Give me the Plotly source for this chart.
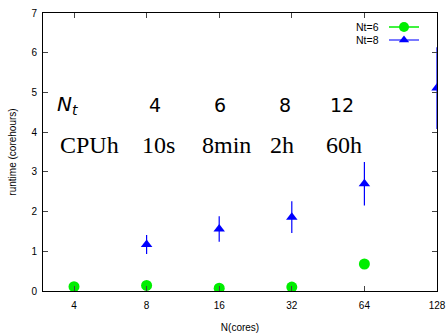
import plotly.graph_objects as go

cores_nt6 = [4, 8, 16, 32, 64]
runtime_nt6 = [0.11, 0.14, 0.07, 0.10, 0.68]

cores_nt8 = [8, 16, 32, 64, 128]
runtime_nt8 = [1.17, 1.56, 1.86, 2.70, 5.11]
err_nt8 = [0.24, 0.32, 0.40, 0.55, 1.03]

nt_labels = ["4", "6", "8", "12"]
cpuh_labels = ["10s", "8min", "2h", "60h"]
col_px = [155, 220, 285, 342]
cpuh_px = [158, 226, 282, 344]

xticks = [4, 8, 16, 32, 64, 128]

GREEN = "#00ee00"
BLUE = "#0000ff"

fig = go.Figure()
fig.add_trace(go.Scatter(
    x=cores_nt6, y=runtime_nt6, mode="markers", name="Nt=6", showlegend=False,
    marker=dict(symbol="circle", size=11, color=GREEN),
))
fig.add_trace(go.Scatter(
    x=cores_nt8, y=runtime_nt8, mode="markers", name="Nt=8", showlegend=False,
    marker=dict(symbol="triangle-up", size=10, color=BLUE),
    error_y=dict(type="data", array=err_nt8, width=0, thickness=1.2, color=BLUE),
))
# legend keys (no data)
fig.add_trace(go.Scatter(x=[None], y=[None], mode="lines+markers", name="\u200b",
                         line=dict(color=GREEN, width=1.5), legend="legend",
                         marker=dict(symbol="circle", size=10, color=GREEN)))
fig.add_trace(go.Scatter(x=[None], y=[None], mode="lines+markers", name="\u200b",
                         line=dict(color="#4d4dff", width=1.5), legend="legend2",
                         marker=dict(symbol="triangle-up", size=9, color=BLUE)))

W, H = 448, 333
L, R, T, B = 43, 11, 13, 42
pw, ph = W - L - R, H - T - B

def px2paper(x, y):
    return (x - L) / pw, 1 - (y - T) / ph

ann = []
def add_text(text, px, py, family, size, xanchor="center"):
    fx, fy = px2paper(px, py)
    ann.append(dict(x=fx, y=fy, xref="paper", yref="paper", text=text,
                    showarrow=False, xanchor=xanchor, yanchor="middle",
                    font=dict(family=family, size=size, color="black")))

add_text("<i>N<sub>t</sub></i>", 67, 105, "DejaVu Sans", 20)
for lab, px in zip(nt_labels, col_px):
    add_text(lab, px, 105, "DejaVu Sans", 19)
add_text("CPUh", 89, 145, "Liberation Serif", 24)
for lab, px in zip(cpuh_labels, cpuh_px):
    add_text(lab, px, 145, "Liberation Serif", 24)

add_text("Nt=6", 381, 27, "Liberation Sans", 10.5, xanchor="right")
add_text("Nt=8", 381, 40, "Liberation Sans", 10.5, xanchor="right")

lx, ly1 = px2paper(384, 27)
_, ly2 = px2paper(384, 40)
leg_common = dict(xanchor="left", yanchor="middle", bgcolor="rgba(0,0,0,0)",
                  font=dict(size=8), itemwidth=30, itemsizing="trace",
                  borderwidth=0)
fig.update_layout(
    width=W, height=H,
    margin=dict(l=L, r=R, t=T, b=B),
    paper_bgcolor="white", plot_bgcolor="white",
    font=dict(family="Liberation Sans", size=10, color="black"),
    annotations=ann,
    legend=dict(x=lx, y=ly1, **leg_common),
    legend2=dict(x=lx, y=ly2, **leg_common),
    xaxis=dict(type="log", range=[0.4735, 2.1072], tickvals=xticks,
               ticktext=[str(v) for v in xticks], ticks="inside", ticklen=5,
               ticklabelstandoff=5,
               showline=True, linecolor="black", linewidth=1, mirror="ticks",
               showgrid=False, zeroline=False, automargin=False,
               title=dict(text="N(cores)", font=dict(size=10), standoff=18)),
    yaxis=dict(range=[0, 7], dtick=1, ticks="inside", ticklen=5,
               ticklabelstandoff=3,
               showline=True, linecolor="black", linewidth=1, mirror="ticks",
               showgrid=False, zeroline=False, automargin=False,
               title=dict(text="runtime (corehours)", font=dict(size=10), standoff=12)),
)

fig.write_html("out.html")
